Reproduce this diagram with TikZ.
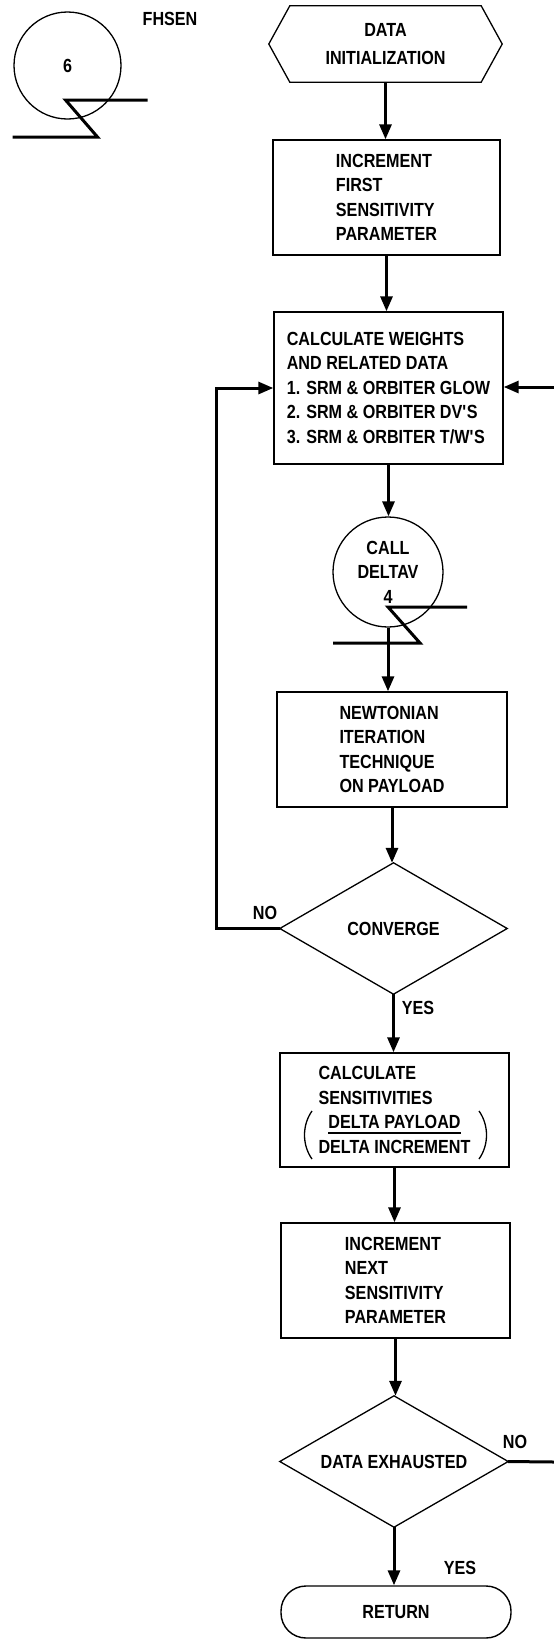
\documentclass[tikz,border=0pt]{standalone}
\usepackage{fontspec}
\usepackage{calc}
\setmainfont{Liberation Sans}[FakeStretch=0.85]
\usetikzlibrary{arrows.meta}
\newcommand\fracline[1]{\vtop{\hbox{#1}\kern3pt\hrule height 1.8pt}}
\newcommand\apos{\textquotesingle}
\begin{document}
\begin{tikzpicture}[x=1pt,y=-1pt,
  every node/.style={font=\fontsize{19}{24.5}\selectfont\bfseries, inner sep=0pt},
  procbox/.style 2 args={draw, line width=1.4pt, minimum width=#1, minimum height=#2, align=left},
  outline/.style={line width=1.3pt, line join=miter},
  conn/.style={line width=3pt, -{Triangle[length=15pt,width=12pt]}},
  plain/.style={line width=3pt},
  zig/.style={line width=3pt, line join=miter}]
\useasboundingbox (0,0) rectangle (554,1639);
\fill[white] (0,0) rectangle (554,1639);

% off-page connector 6
\node[draw, circle, outline, minimum size=107pt] (c6) at (67.5,65.5) {6};
\node (fhsen) at (170,19) {FHSEN};
\draw[zig] ([shift={(80,34.5)}]c6.center) -- ++(-82,0) -- ++(32,37) -- ++(-85,0);

% data initialization
\node[minimum width=191pt, minimum height=76pt, align=center] (init) at (385.5,44) {DATA\\[3.5pt]INITIALIZATION};
\draw[outline] (init.north west) -- (init.north east) -- ([xshift=21pt]init.east) -- (init.south east) -- (init.south west) -- ([xshift=-21pt]init.west) -- cycle;

\node[procbox={227pt}{115pt}] (b1) at (386.5,197.5) {INCREMENT\\FIRST\\SENSITIVITY\\PARAMETER};
\node[procbox={229pt}{152pt}] (b2) at (388.5,388) {CALCULATE WEIGHTS\\AND RELATED DATA\\1. SRM \& ORBITER GLOW\\2. SRM \& ORBITER DV\apos S\\3. SRM \& ORBITER T/W\apos S};

\node[draw, circle, outline, minimum size=110pt, align=center] (c4) at (388,572) {CALL\\DELTAV\\4};
\draw[zig] ([shift={(79,35)}]c4.center) -- ++(-79,0) -- ++(32,36) -- ++(-87,0);

\node[procbox={230pt}{115pt}] (b3) at (392,749.5) {NEWTONIAN\\ITERATION\\TECHNIQUE\\ON PAYLOAD};

\node[minimum width=227pt, minimum height=131pt] (d1) at (393.5,928.5) {CONVERGE};
\draw[outline] (d1.north) -- (d1.east) -- (d1.south) -- (d1.west) -- cycle;

\node[procbox={229pt}{114pt}] (b4) at (394.5,1110) {CALCULATE\\SENSITIVITIES\\\makebox[\widthof{DELTA INCREMENT}]{\fracline{DELTA PAYLOAD}}\\DELTA INCREMENT};
\draw[outline] (312,1111) .. controls (302,1125) and (302,1145) .. (312,1159);
\draw[outline] (479,1111) .. controls (489,1125) and (489,1145) .. (479,1159);

\node[procbox={229pt}{115pt}] (b5) at (395.5,1280.5) {INCREMENT\\NEXT\\SENSITIVITY\\PARAMETER};

\node[minimum width=228pt, minimum height=131pt] (d2) at (394,1461.5) {DATA EXHAUSTED};
\draw[outline] (d2.north) -- (d2.east) -- (d2.south) -- (d2.west) -- cycle;

\node[draw, line width=1.4pt, rounded corners=25pt, minimum width=230pt, minimum height=52pt] (ret) at (396,1612) {RETURN};

% labels
\node (no1) at (265,913) {NO};
\node (yes1) at (418,1008) {YES};
\node (no2) at (515,1442) {NO};
\node (yes2) at (460,1568) {YES};

\coordinate (rin) at (554,387);
\coordinate (rout) at (554,1462);

% connectors
\draw[conn] (init.south) -- (init.south |- b1.north);
\draw[conn] (b1.south) -- (b1.south |- b2.north);
\draw[conn] (b2.south) -- (b2.south |- c4.north);
\draw[conn] (c4.south) -- (c4.south |- b3.north);
\draw[conn] (b3.south) -- (b3.south |- d1.north);
\draw[conn] (d1.south) -- (d1.south |- b4.north);
\draw[conn] (b4.south) -- (b4.south |- b5.north);
\draw[conn] (b5.south) -- (b5.south |- d2.north);
\draw[conn] (d2.south) -- (d2.south |- ret.north);
\draw[conn] (d1.west) -- ++(-63,0) |- (b2.west);
\draw[conn] (rin) -- (rin -| b2.east);
\draw[plain] (d2.east) -- (rout);
\end{tikzpicture}
\end{document}
